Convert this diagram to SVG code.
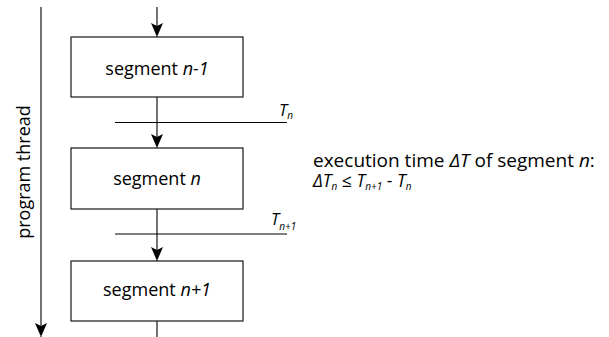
<svg xmlns="http://www.w3.org/2000/svg" width="609" height="337" viewBox="0 0 609 337">
<style>
text{font-family:"Open Sans","Liberation Sans",sans-serif;font-size:18px;fill:#000}
.box{fill:#fff;stroke:#000;stroke-width:1.1}
.ln{stroke:#000;stroke-width:1.1;fill:none}
.lbl{text-anchor:middle}
.t{font-size:16.5px;font-style:italic}
.sub{font-size:10px}
.eq{font-size:17.5px}
.note{font-size:19px}
</style>
<defs>
<marker id="ah" markerWidth="12" markerHeight="14" refX="14" refY="6" orient="auto" markerUnits="userSpaceOnUse">
<path d="M0,0 L14,6 L0,12 L3,6 Z" fill="#000"/>
</marker>
</defs>
<g id="connectors">
<line class="ln" x1="157" y1="7" x2="157" y2="37" marker-end="url(#ah)"/>
<line class="ln" x1="157" y1="97" x2="157" y2="148" marker-end="url(#ah)"/>
<line class="ln" x1="157" y1="209" x2="157" y2="261" marker-end="url(#ah)"/>
<line class="ln" x1="157" y1="321" x2="157" y2="337"/>
<line class="ln" x1="41" y1="7" x2="41" y2="337" marker-end="url(#ah)"/>
</g>
<g id="time-tn">
<line class="ln" x1="115" y1="122.5" x2="287" y2="122.5"/>
<text class="t" x="279" y="116">T<tspan class="sub" dy="3">n</tspan></text>
</g>
<g id="time-tn1">
<line class="ln" x1="115" y1="234" x2="287" y2="234"/>
<text class="t" x="271" y="225">T<tspan class="sub" dy="5">n+1</tspan></text>
</g>
<g id="seg-n-1">
<rect class="box" x="71" y="37" width="172" height="60"/>
<text class="lbl" x="157" y="75">segment <tspan font-style="italic">n-1</tspan></text>
</g>
<g id="seg-n">
<rect class="box" x="71" y="148" width="172" height="61"/>
<text class="lbl" x="157" y="185">segment <tspan font-style="italic">n</tspan></text>
</g>
<g id="seg-n1">
<rect class="box" x="71" y="261" width="172" height="60"/>
<text class="lbl" x="157" y="296">segment <tspan font-style="italic">n+1</tspan></text>
</g>
<g id="thread-label">
<text class="lbl" transform="translate(29.5,172) rotate(-90)">program thread</text>
</g>
<g id="exec-note">
<text class="note" x="313" y="167">execution time <tspan font-style="italic">ΔT</tspan> of segment <tspan font-style="italic">n</tspan>:</text>
<text class="eq" x="313" y="187"><tspan font-style="italic">ΔT</tspan><tspan class="sub" font-style="italic" dy="3">n</tspan><tspan dy="-3"> ≤ </tspan><tspan font-style="italic">T</tspan><tspan class="sub" font-style="italic" dy="3">n+1</tspan><tspan dy="-3"> - </tspan><tspan font-style="italic">T</tspan><tspan class="sub" font-style="italic" dy="3">n</tspan></text>
</g>
</svg>
